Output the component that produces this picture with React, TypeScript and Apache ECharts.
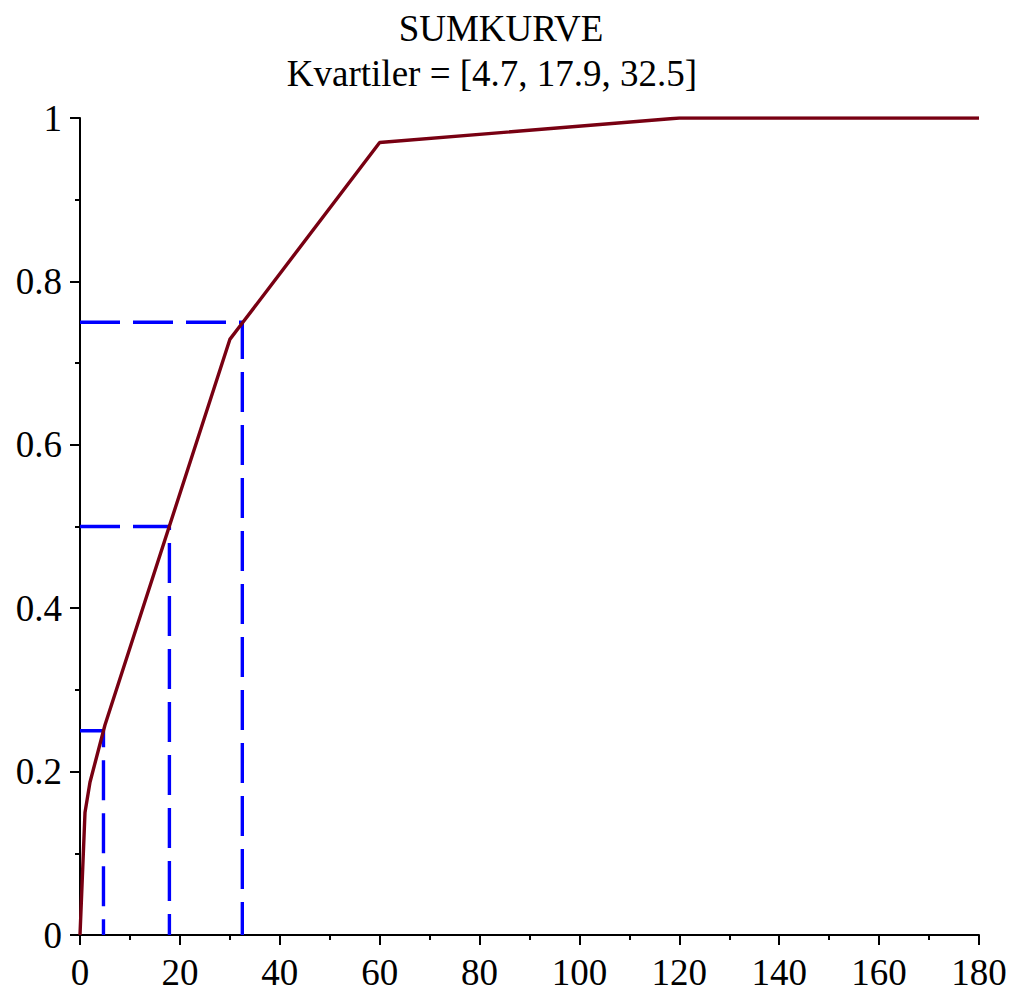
import React, { useEffect, useRef } from "react";
import * as echarts from "echarts";

const titleMain = "SUMKURVE";
const titleSub = "Kvartiler = [4.7, 17.9, 32.5]";

const curveX = [0, 1, 2, 5, 30, 32.5, 60, 120, 180];
const curveY = [0, 0.15, 0.187, 0.257, 0.729, 0.749, 0.97, 1, 1];

const quartiles = [4.7, 17.9, 32.5];
const quartileLevels = [0.25, 0.5, 0.75];

const xTicks = { min: 0, max: 180, interval: 20 };
const yTicks = { min: 0, max: 1, interval: 0.2 };

const FONT = "'Liberation Serif', 'Times New Roman', serif";

export default function App() {
  const ref = useRef<HTMLDivElement>(null);

  useEffect(() => {
    document.body.style.margin = "0";
    if (!ref.current) return;
    const chart = echarts.init(ref.current, null, { renderer: "svg" });

    const curveData = curveX.map((x, i) => [x, curveY[i]]);
    const quartileSeries = quartiles.map((q, i) => ({
      type: "line",
      data: [
        [0, quartileLevels[i]],
        [q, quartileLevels[i]],
        [q, 0],
      ],
      symbol: "none",
      silent: true,
      z: 2,
      lineStyle: { color: "#0000ff", width: 3.4, type: [40, 13] },
    }));

    chart.setOption({
      animation: false,
      backgroundColor: "#ffffff",
      textStyle: { fontFamily: FONT },
      graphic: [
        {
          type: "text",
          x: 501,
          y: 28,
          style: {
            text: titleMain,
            font: `37px ${FONT}`,
            fill: "#000",
            textAlign: "center",
            textVerticalAlign: "middle",
          },
        },
        {
          type: "text",
          x: 492,
          y: 73,
          style: {
            text: titleSub,
            font: `37px ${FONT}`,
            fill: "#000",
            textAlign: "center",
            textVerticalAlign: "middle",
          },
        },
      ],
      grid: { left: 80, right: 33, top: 118, bottom: 57, containLabel: false },
      xAxis: {
        type: "value",
        min: xTicks.min,
        max: xTicks.max,
        interval: xTicks.interval,
        axisLine: { show: true, lineStyle: { color: "#000", width: 2 } },
        axisTick: { show: true, length: 10, lineStyle: { color: "#000", width: 2 } },
        minorTick: { show: true, splitNumber: 2, length: 5, lineStyle: { color: "#000", width: 2 } },
        splitLine: { show: false },
        axisLabel: { fontSize: 37, color: "#000", fontFamily: FONT, margin: 19 },
      },
      yAxis: {
        type: "value",
        min: yTicks.min,
        max: yTicks.max,
        interval: yTicks.interval,
        axisLine: { show: true, lineStyle: { color: "#000", width: 2 } },
        axisTick: { show: true, length: 10, lineStyle: { color: "#000", width: 2 } },
        minorTick: { show: true, splitNumber: 2, length: 5, lineStyle: { color: "#000", width: 2 } },
        splitLine: { show: false },
        axisLabel: {
          fontSize: 37,
          color: "#000",
          fontFamily: FONT,
          margin: 18,
          formatter: (v: number) => String(Math.round(v * 10) / 10),
        },
      },
      series: [
        ...quartileSeries,
        {
          type: "line",
          data: curveData,
          symbol: "none",
          silent: true,
          z: 3,
          lineStyle: { color: "#780012", width: 3.4 },
        },
      ],
    });

    return () => chart.dispose();
  }, []);

  return <div ref={ref} style={{ width: 1012, height: 992 }} />;
}
